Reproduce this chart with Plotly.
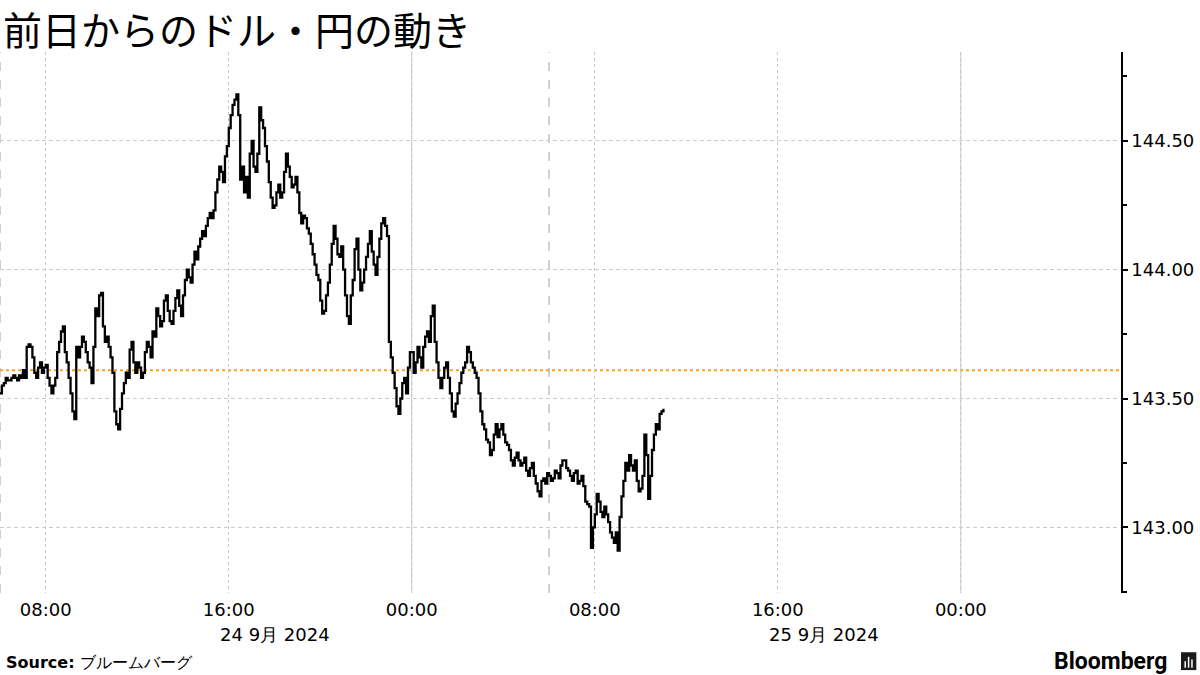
import pandas as pd
import plotly.graph_objects as go

# ---- data (USD/JPY from 2024-09-24 06:00) ----
start_time = "2024-09-24 06:00"
# values on the 10-minute marks
usdjpy_10m = [
    143.52, 143.56, 143.57, 143.58, 143.58, 143.59, 143.61, 143.70, 143.70, 143.60,
    143.62, 143.60, 143.63, 143.55, 143.55, 143.68, 143.76, 143.68, 143.58, 143.45,
    143.70, 143.70, 143.72, 143.64, 143.56, 143.85, 143.90, 143.78, 143.74, 143.66,
    143.45, 143.38, 143.52, 143.60, 143.69, 143.64, 143.64, 143.58, 143.68, 143.70,
    143.76, 143.85, 143.78, 143.88, 143.84, 143.79, 143.89, 143.86, 143.90, 144.00,
    143.95, 144.07, 144.09, 144.15, 144.17, 144.22, 144.23, 144.35, 144.38, 144.44,
    144.55, 144.64, 144.68, 144.35, 144.30, 144.28, 144.50, 144.38, 144.63, 144.55,
    144.42, 144.28, 144.25, 144.33, 144.30, 144.45, 144.36, 144.33, 144.30, 144.18,
    144.20, 144.14, 144.06, 143.98, 143.88, 143.84, 143.95, 144.10, 144.12, 144.05,
    144.00, 143.82, 143.90, 144.08, 144.00, 143.95, 144.05, 144.15, 144.02, 144.05,
    144.18, 144.17, 143.72, 143.60, 143.47, 143.50, 143.58, 143.62, 143.68, 143.64,
    143.66, 143.70, 143.76, 143.82, 143.72, 143.58, 143.58, 143.64, 143.52, 143.43,
    143.52, 143.60, 143.64, 143.68, 143.62, 143.58, 143.45, 143.38, 143.33, 143.30,
    143.40, 143.38, 143.36, 143.32, 143.26, 143.27, 143.26, 143.25, 143.22, 143.23,
    143.20, 143.14, 143.18, 143.17, 143.20, 143.19, 143.21, 143.24, 143.26, 143.22,
    143.18, 143.22, 143.18, 143.16, 143.09, 142.92, 143.05, 143.10, 143.04, 143.05,
    142.98, 142.94, 142.91, 143.12, 143.25, 143.28, 143.22, 143.18, 143.15, 143.36,
    143.11, 143.30, 143.40, 143.44, 143.46,
]
# values on the 5-minute marks in between
usdjpy_5m = [
    143.55, 143.58, 143.57, 143.59, 143.57, 143.58, 143.58, 143.71, 143.66, 143.58,
    143.64, 143.62, 143.58, 143.52, 143.58, 143.72, 143.78, 143.64, 143.52, 143.42,
    143.66, 143.74, 143.68, 143.62, 143.70, 143.82, 143.91, 143.72, 143.70, 143.60,
    143.40, 143.46, 143.56, 143.58, 143.72, 143.60, 143.62, 143.60, 143.72, 143.66,
    143.74, 143.82, 143.80, 143.90, 143.80, 143.84, 143.92, 143.82, 143.96, 143.97,
    144.02, 144.04, 144.12, 144.13, 144.20, 144.20, 144.30, 144.40, 144.34, 144.48,
    144.60, 144.66, 144.60, 144.40, 144.36, 144.45, 144.40, 144.45, 144.58, 144.48,
    144.34, 144.24, 144.30, 144.28, 144.38, 144.40, 144.32, 144.36, 144.22, 144.21,
    144.16, 144.10, 144.02, 143.96, 143.83, 143.90, 144.02, 144.17, 144.06, 144.09,
    143.90, 143.79, 143.96, 144.12, 143.92, 144.00, 144.10, 144.07, 143.98, 144.12,
    144.20, 144.13, 143.66, 143.54, 143.44, 143.56, 143.52, 143.68, 143.60, 143.70,
    143.62, 143.74, 143.72, 143.86, 143.64, 143.54, 143.62, 143.58, 143.45, 143.48,
    143.56, 143.62, 143.70, 143.64, 143.60, 143.52, 143.40, 143.34, 143.28, 143.36,
    143.35, 143.40, 143.33, 143.30, 143.24, 143.29, 143.24, 143.27, 143.20, 143.25,
    143.17, 143.12, 143.19, 143.21, 143.18, 143.22, 143.19, 143.26, 143.23, 143.20,
    143.21, 143.17, 143.20, 143.10, 143.08, 143.00, 143.13, 143.06, 143.08, 143.02,
    142.96, 142.98, 143.04, 143.18, 143.22, 143.24, 143.26, 143.14, 143.20, 143.28,
    143.20, 143.36, 143.38, 143.45,
]
prev_close = 143.61

x_range = ["2024-09-24 06:00", "2024-09-26 07:00"]
y_range = [142.745, 144.845]
x_tickvals = ["2024-09-24 08:00", "2024-09-24 16:00", "2024-09-25 00:00",
              "2024-09-25 08:00", "2024-09-25 16:00", "2024-09-26 00:00"]
x_ticktext = ["08:00", "16:00", "00:00", "08:00", "16:00", "00:00"]
date_labels = ["24 9月 2024", "25 9月 2024"]
date_label_pos = ["2024-09-24 18:00", "2024-09-25 18:00"]
midnights = ["2024-09-25 00:00", "2024-09-26 00:00"]
session_starts = ["2024-09-24 06:00", "2024-09-25 06:00"]
y_tickvals = [143.0, 143.5, 144.0, 144.5]

# interleave the 10-minute and in-between 5-minute readings
usdjpy = []
for i, v in enumerate(usdjpy_10m):
    usdjpy.append(v)
    if i < len(usdjpy_5m):
        usdjpy.append(usdjpy_5m[i])
times = pd.date_range(start_time, periods=len(usdjpy), freq="5min")

TICK_FONT = dict(family="DejaVu Sans", size=18, color="#000000")

fig = go.Figure()
fig.add_trace(go.Scatter(
    x=times, y=usdjpy, mode="lines", line=dict(color="#000000", width=2.3, shape="hv"),
    hoverinfo="skip", showlegend=False,
))

shapes = []
for m in midnights:
    shapes.append(dict(type="line", xref="x", yref="paper", x0=m, x1=m, y0=0, y1=1,
                       line=dict(color="#c8c8c8", width=1), layer="below"))
for s in session_starts:
    shapes.append(dict(type="line", xref="x", yref="paper", x0=s, x1=s, y0=0, y1=1,
                       line=dict(color="#b0b0b0", width=1.2, dash="dash"), layer="below"))
shapes.append(dict(type="line", xref="paper", yref="y", x0=0, x1=1, y0=prev_close, y1=prev_close,
                   line=dict(color="#f5a31a", width=2, dash="dot"), layer="below"))
# Bloomberg logo mark
shapes.append(dict(type="rect", xref="paper", yref="paper", x0=1.0535, x1=1.0672,
                   y0=-0.1425, y1=-0.1095, fillcolor="#1a1a1a", line=dict(width=0)))
for bx, bh in [(1.0573, 0.012), (1.0603, 0.020), (1.0633, 0.015)]:
    shapes.append(dict(type="line", xref="paper", yref="paper", x0=bx, x1=bx,
                       y0=-0.138, y1=-0.138 + bh, line=dict(color="#ffffff", width=1.5)))

annotations = [
    dict(text="前日からのドル・円の動き", xref="paper", yref="paper", x=0.001, y=1.044,
         xanchor="left", yanchor="middle", showarrow=False,
         font=dict(family="Noto Sans CJK JP", size=39, color="#000000")),
    dict(text="<b>Source:</b> ブルームバーグ", xref="paper", yref="paper", x=0.004, y=-0.128,
         xanchor="left", yanchor="middle", showarrow=False,
         font=dict(family="DejaVu Sans", size=16, color="#000000")),
    dict(text="<b>Bloomberg</b>", xref="paper", yref="paper", x=1.0425, y=-0.126,
         xanchor="right", yanchor="middle", showarrow=False,
         font=dict(family="Roboto", size=23, color="#000000")),
]
for lbl, pos in zip(date_labels, date_label_pos):
    annotations.append(dict(text=lbl, xref="x", yref="paper", x=pos, y=-0.076,
                            xanchor="center", yanchor="middle", showarrow=False,
                            font=TICK_FONT))

fig.update_layout(
    width=1200, height=675,
    margin=dict(l=0, r=79, t=52, b=82),
    paper_bgcolor="#ffffff", plot_bgcolor="#ffffff",
    shapes=shapes, annotations=annotations,
    xaxis=dict(
        type="date", range=x_range, tickvals=x_tickvals, ticktext=x_ticktext,
        showgrid=True, gridcolor="#c8c8c8", griddash="dot", gridwidth=1,
        showline=False, zeroline=False, ticks="", tickfont=TICK_FONT,
        ticklabelstandoff=4,
    ),
    yaxis=dict(
        side="right", range=y_range, tickvals=y_tickvals, tickformat=".2f",
        showgrid=True, gridcolor="#cccccc", griddash="4px,3px", gridwidth=1,
        showline=True, linecolor="#000000", linewidth=1.5, zeroline=False,
        ticks="outside", ticklen=5, tickcolor="#000000", tickwidth=1.5,
        tickfont=TICK_FONT,
        minor=dict(dtick=0.25, ticks="outside", ticklen=4, tickcolor="#000000", showgrid=False),
    ),
)

fig.write_html(
    "out.html",
    config={"displayModeBar": False},
    post_script="document.body.style.margin='0';document.body.style.padding='0';"
                "document.body.style.overflow='hidden';",
)
